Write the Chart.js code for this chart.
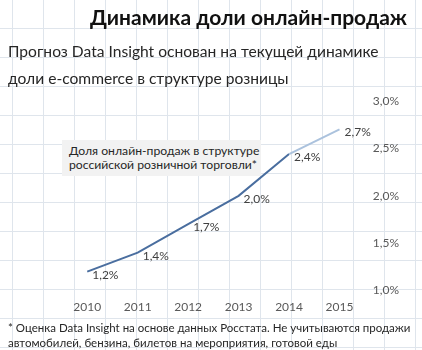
<!DOCTYPE html>
<html>
<head>
<meta charset="utf-8">
<script src="https://cdn.jsdelivr.net/npm/chart.js@4"></script>
<style>
  html, body {
    margin: 0;
    padding: 0;
  }
  body {
    width: 422px;
    height: 350px;
    position: relative;
    overflow: hidden;
    font-family: Lato, sans-serif;
    color: #262626;
    /* spreadsheet cells behind the chart */
    background-color: #fff;
    background-image:
      linear-gradient(to right, #dfe5ec 1px, transparent 1px),
      linear-gradient(to bottom, #dfe5ec 1px, transparent 1px);
    background-size: 31px 29px;
    background-position: 12px 28px;
  }
  .txt {
    position: absolute;
    white-space: nowrap;
  }
  #title {
    right: 15px;
    top: 3px;
    font-size: 21px;
    line-height: 28px;
    font-weight: bold;
    color: #111;
  }
  #sub {
    left: 8px;
    top: 38px;
    font-size: 15.6px;
    line-height: 27px;
  }
  #note {
    left: 8px;
    top: 320px;
    font-size: 11.5px;
    line-height: 15px;
  }
  #legendBox {
    position: absolute;
    left: 62px;
    top: 140px;
    width: 192px;
    padding: 4px 0 4px 7px;
    background: #f2f2f2;
    font-size: 12.2px;
    line-height: 14px;
    color: #262626;
    white-space: nowrap;
  }
  #chartWrap {
    position: absolute;
    left: 0;
    top: 0;
    width: 422px;
    height: 350px;
  }
</style>
</head>
<body>
<div id="chartWrap"><canvas id="shareChart" width="422" height="350"></canvas></div>
<div class="txt" id="title">Динамика доли онлайн-продаж</div>
<div class="txt" id="sub">Прогноз Data Insight основан на текущей динамике<br>доли e-commerce в структуре розницы</div>
<div id="legendBox">Доля онлайн-продаж в структуре<br>российской розничной торговли*</div>
<div class="txt" id="note">* Оценка Data Insight на основе данных Росстата. Не учитываются продажи<br>автомобилей, бензина, билетов на мероприятия, готовой еды</div>

<script>
// Данные графика
const years = ['2010', '2011', '2012', '2013', '2014', '2015'];
const shareValues = [1.2, 1.4, 1.7, 2.0, 2.44, 2.7];
const forecastFrom = 4; // с 2014 года — прогноз (светлая линия)

const yMin = 1.0;
const yMax = 3.0;
const yStep = 0.5;

function pct(v) {
  return v.toFixed(1).replace('.', ',') + '%';
}

// Подписи значений справа от точек
const valueLabels = {
  id: 'valueLabels',
  afterDatasetsDraw(chart) {
    const ctx = chart.ctx;
    const meta = chart.getDatasetMeta(0);
    ctx.save();
    ctx.font = '12px Lato, sans-serif';
    ctx.fillStyle = '#404040';
    ctx.textAlign = 'left';
    ctx.textBaseline = 'middle';
    meta.data.forEach((pt, i) => {
      ctx.fillText(pct(shareValues[i]), pt.x + 5, pt.y + 3);
    });
    ctx.restore();
  },
};

const ctx = document.getElementById('shareChart').getContext('2d');
new Chart(ctx, {
  type: 'line',
  data: {
    labels: years,
    datasets: [
      {
        label: 'Доля онлайн-продаж в структуре российской розничной торговли*',
        data: shareValues,
        borderColor: '#4a6e9f',
        borderWidth: 2,
        pointRadius: 0,
        tension: 0,
        fill: false,
        segment: {
          borderColor: (c) => (c.p0DataIndex >= forecastFrom ? '#abc2dd' : '#4a6e9f'),
        },
      },
    ],
  },
  options: {
    responsive: false,
    animation: false,
    layout: {
      padding: { top: 101, left: 62, right: 15, bottom: 27 },
    },
    plugins: {
      legend: { display: false },
      tooltip: { enabled: false },
    },
    scales: {
      x: {
        offset: true,
        grid: { display: false, drawTicks: false },
        border: { display: false },
        ticks: {
          padding: 9,
          color: '#595959',
          font: { family: 'Lato, sans-serif', size: 12 },
        },
      },
      y: {
        position: 'right',
        min: yMin,
        max: yMax,
        grid: { display: false, drawTicks: false },
        border: { display: false },
        ticks: {
          stepSize: yStep,
          padding: 8,
          color: '#595959',
          font: { family: 'Lato, sans-serif', size: 12 },
          callback: (v) => pct(v),
        },
      },
    },
  },
  plugins: [valueLabels],
});
</script>
</body>
</html>
